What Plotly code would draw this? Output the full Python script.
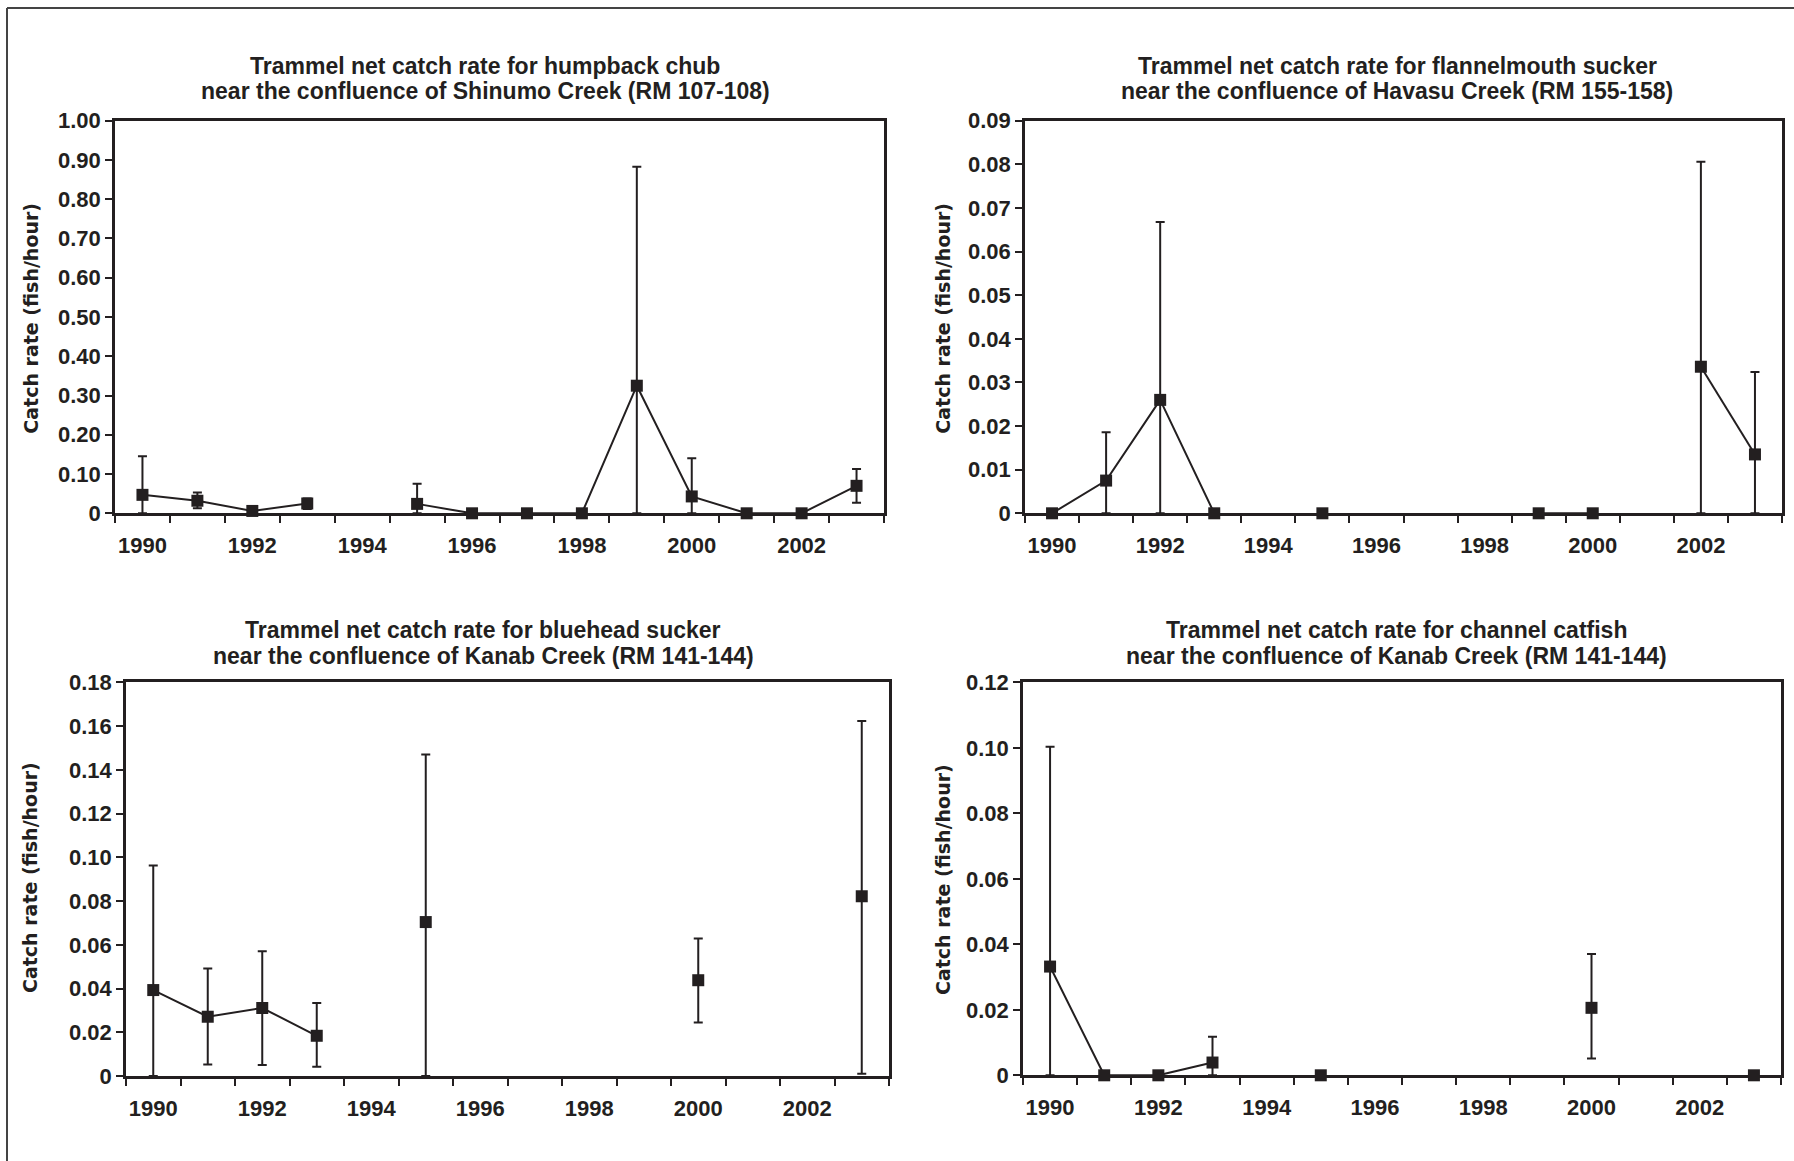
import plotly.graph_objects as go

W, H = 1794, 1161

# ---------------- data ----------------
years = [1990, 1991, 1992, 1993, 1994, 1995, 1996, 1997, 1998, 1999, 2000, 2001, 2002, 2003]
year_labels = [1990, 1992, 1994, 1996, 1998, 2000, 2002]

# Humpback chub, Shinumo Creek (RM 107-108)
hbc_rate  = [0.047, 0.032, 0.006, 0.025, None, 0.024, 0.0, 0.0, 0.0, 0.325, 0.043, 0.0, 0.0, 0.070]
hbc_upper = [0.145, 0.053, 0.010, 0.038, None, 0.075, None, None, None, 0.883, 0.140, None, None, 0.113]
hbc_lower = [0.0, 0.013, 0.002, 0.011, None, 0.0, None, None, None, 0.0, 0.0, None, None, 0.027]
hbc_yticks = [0, 0.1, 0.2, 0.3, 0.4, 0.5, 0.6, 0.7, 0.8, 0.9, 1.0]
hbc_ylabels = ["0", "0.10", "0.20", "0.30", "0.40", "0.50", "0.60", "0.70", "0.80", "0.90", "1.00"]

# Flannelmouth sucker, Havasu Creek (RM 155-158)
fms_rate  = [0.0, 0.0075, 0.0260, 0.0, None, 0.0, None, None, None, 0.0, 0.0, None, 0.0336, 0.0135]
fms_upper = [None, 0.0186, 0.0668, None, None, None, None, None, None, None, None, None, 0.0806, 0.0324]
fms_lower = [None, 0.0, 0.0, None, None, None, None, None, None, None, None, None, 0.0, 0.0]
fms_yticks = [0, 0.01, 0.02, 0.03, 0.04, 0.05, 0.06, 0.07, 0.08, 0.09]
fms_ylabels = ["0", "0.01", "0.02", "0.03", "0.04", "0.05", "0.06", "0.07", "0.08", "0.09"]

# Bluehead sucker, Kanab Creek (RM 141-144)
bhs_rate  = [0.0393, 0.0271, 0.0311, 0.0184, None, 0.0704, None, None, None, None, 0.0438, None, None, 0.0822]
bhs_upper = [0.0963, 0.0492, 0.0570, 0.0334, None, 0.1470, None, None, None, None, 0.0629, None, None, 0.1624]
bhs_lower = [0.0, 0.0053, 0.0050, 0.0042, None, 0.0, None, None, None, None, 0.0245, None, None, 0.0010]
bhs_yticks = [0, 0.02, 0.04, 0.06, 0.08, 0.10, 0.12, 0.14, 0.16, 0.18]
bhs_ylabels = ["0", "0.02", "0.04", "0.06", "0.08", "0.10", "0.12", "0.14", "0.16", "0.18"]

# Channel catfish, Kanab Creek (RM 141-144)
ccf_rate  = [0.0332, 0.0, 0.0, 0.0039, None, 0.0, None, None, None, None, 0.0206, None, None, 0.0]
ccf_upper = [0.1003, None, None, 0.0118, None, None, None, None, None, None, 0.0370, None, None, None]
ccf_lower = [0.0, None, None, 0.0, None, None, None, None, None, None, 0.0051, None, None, None]
ccf_yticks = [0, 0.02, 0.04, 0.06, 0.08, 0.10, 0.12]
ccf_ylabels = ["0", "0.02", "0.04", "0.06", "0.08", "0.10", "0.12"]

titles = [
    ("Trammel net catch rate for humpback chub", "near the confluence of Shinumo Creek (RM 107-108)"),
    ("Trammel net catch rate for flannelmouth sucker", "near the confluence of Havasu Creek (RM 155-158)"),
    ("Trammel net catch rate for bluehead sucker", "near the confluence of Kanab Creek (RM 141-144)"),
    ("Trammel net catch rate for channel catfish", "near the confluence of Kanab Creek (RM 141-144)"),
]
y_title = "Catch rate (fish/hour)"

# ---------------- layout geometry (pixels) ----------------
panels = [
    dict(rate=hbc_rate, up=hbc_upper, lo=hbc_lower, yt=hbc_yticks, yl=hbc_ylabels, ymax=1.0,
         x0=115, x1=884, ytop=120.7, ybot=513.3, tx=485, ty1=66, ty2=91, ax=31, ay=318.7),
    dict(rate=fms_rate, up=fms_upper, lo=fms_lower, yt=fms_yticks, yl=fms_ylabels, ymax=0.09,
         x0=1025, x1=1782, ytop=120.7, ybot=513.3, tx=1397, ty1=66, ty2=91, ax=943, ay=318.7),
    dict(rate=bhs_rate, up=bhs_upper, lo=bhs_lower, yt=bhs_yticks, yl=bhs_ylabels, ymax=0.18,
         x0=126, x1=889, ytop=682.4, ybot=1076, tx=483, ty1=630, ty2=656, ax=30, ay=878),
    dict(rate=ccf_rate, up=ccf_upper, lo=ccf_lower, yt=ccf_yticks, yl=ccf_ylabels, ymax=0.12,
         x0=1023, x1=1781, ytop=682.3, ybot=1075.3, tx=1396, ty1=630, ty2=656, ax=943, ay=880),
]

INK = "#231f20"
tick_font = dict(family="Liberation Sans, Arial, sans-serif", size=22, color=INK, weight="bold")

fig = go.Figure()
annotations = []
for i, p in enumerate(panels):
    n = "" if i == 0 else str(i + 1)
    plus = [None if (r is None or u is None) else u - r for r, u in zip(p["rate"], p["up"])]
    minus = [None if (r is None or l is None) else r - l for r, l in zip(p["rate"], p["lo"])]
    fig.add_trace(go.Scatter(
        x=years, y=p["rate"], mode="lines+markers", connectgaps=False,
        xaxis="x" + n, yaxis="y" + n, cliponaxis=False, showlegend=False,
        line=dict(color=INK, width=2),
        marker=dict(symbol="square", size=12, color=INK),
        error_y=dict(type="data", symmetric=False, array=plus, arrayminus=minus,
                     color=INK, thickness=2, width=4.5),
    ))
    fig.layout["xaxis" + n] = dict(
        domain=[p["x0"] / W, p["x1"] / W], anchor="y" + n, automargin=False,
        range=[1989.5, 2003.5], tickmode="array", tickvals=year_labels,
        ticktext=[str(v) for v in year_labels],
        ticks="outside", ticklen=7, tickwidth=2, tickcolor="rgba(0,0,0,0)",
        ticklabelstandoff=4,
        minor=dict(tickmode="linear", tick0=1989.5, dtick=1, ticks="outside",
                   ticklen=7, tickwidth=2, tickcolor=INK, showgrid=False),
        showline=True, linewidth=2.5, linecolor=INK, mirror=True,
        showgrid=False, zeroline=False, tickfont=tick_font, fixedrange=True,
    )
    fig.layout["yaxis" + n] = dict(
        domain=[1 - p["ybot"] / H, 1 - p["ytop"] / H], anchor="x" + n, automargin=False,
        range=[0, p["ymax"]], tickmode="array", tickvals=p["yt"], ticktext=p["yl"],
        ticks="outside", ticklen=7, tickwidth=2, tickcolor=INK, ticklabelstandoff=0,
        showline=True, linewidth=2.5, linecolor=INK, mirror=True,
        showgrid=False, zeroline=False, tickfont=tick_font, fixedrange=True,
    )
    t1, t2 = titles[i]
    for txt, ty in ((t1, p["ty1"]), (t2, p["ty2"])):
        annotations.append(dict(
            text=txt, x=p["tx"] / W, y=1 - ty / H, xref="paper", yref="paper",
            xanchor="center", yanchor="middle", showarrow=False,
            font=dict(family="Liberation Sans, Arial, sans-serif", size=23, color=INK, weight="bold"),
        ))
    annotations.append(dict(
        text=y_title, x=p["ax"] / W, y=1 - p["ay"] / H, xref="paper", yref="paper",
        xanchor="center", yanchor="middle", showarrow=False, textangle=-90,
        font=dict(family="DejaVu Sans, Verdana, sans-serif", size=19, color=INK, weight="bold"),
    ))

shapes = [
    dict(type="line", xref="paper", yref="paper", x0=7 / W, x1=7 / W, y0=-0.02, y1=1 - 8 / H,
         line=dict(color="#444444", width=2)),
    dict(type="line", xref="paper", yref="paper", x0=7 / W, x1=1.02, y0=1 - 8 / H, y1=1 - 8 / H,
         line=dict(color="#444444", width=2)),
]

fig.update_layout(
    template="none",
    width=W, height=H, margin=dict(l=0, r=0, t=0, b=0, pad=0, autoexpand=False),
    paper_bgcolor="white", plot_bgcolor="white",
    annotations=annotations, shapes=shapes, showlegend=False,
)

pin_to_corner = (
    "document.body.style.margin='0';document.body.style.overflow='hidden';"
    "var gd=document.getElementById('{plot_id}');"
    "gd.style.position='fixed';gd.style.left='0px';gd.style.top='0px';"
)
fig.write_html("out.html", config={"displayModeBar": False}, post_script=pin_to_corner)
